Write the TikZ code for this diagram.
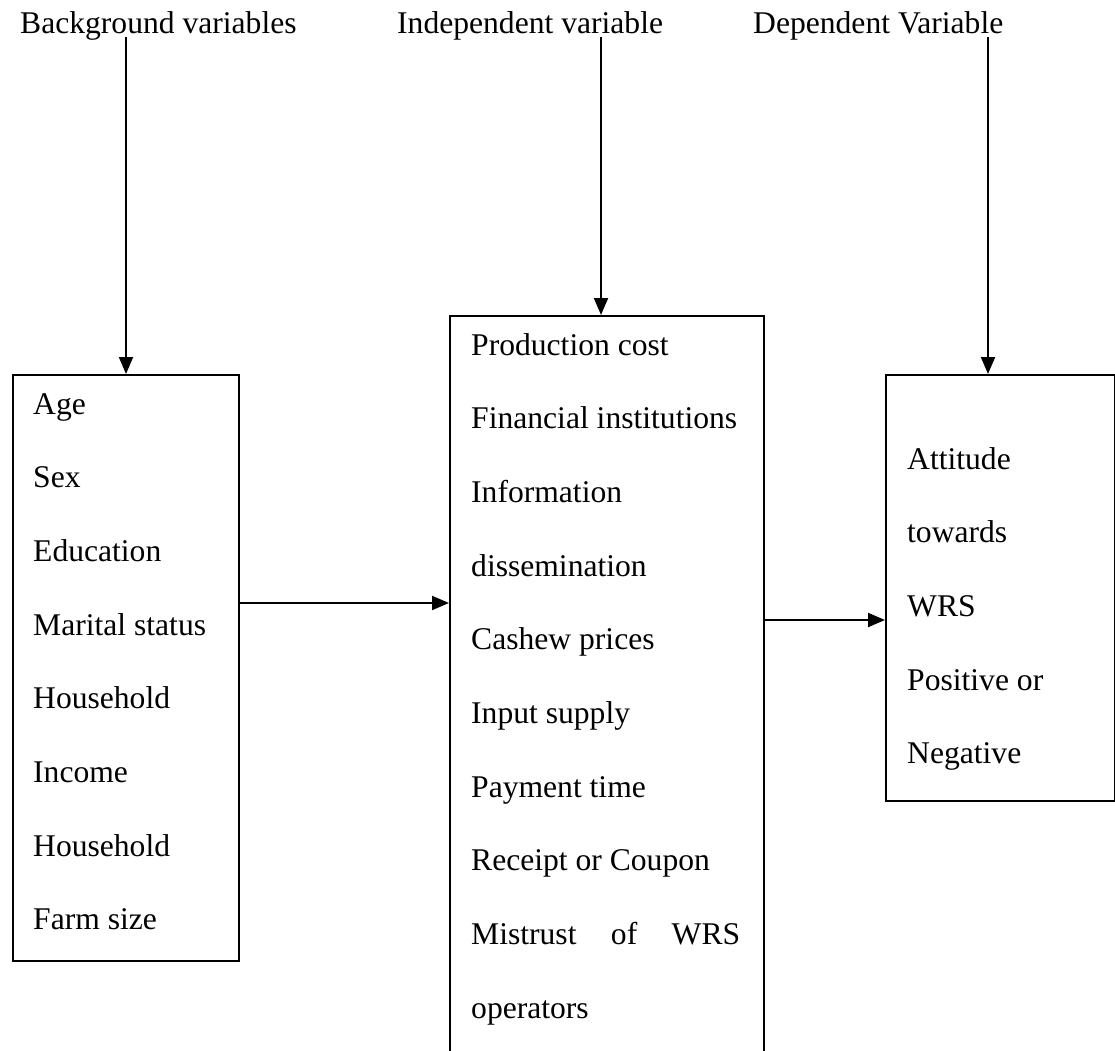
\documentclass[tikz,border=0pt]{standalone}
\usepackage{fontspec}
\setmainfont{Liberation Serif}
\usetikzlibrary{arrows.meta}
\begin{document}
\begin{tikzpicture}[x=1pt,y=-1pt,
  box/.style={draw, line width=2pt, rectangle, inner sep=0pt},
  txt/.style={anchor=base west, inner sep=0pt, font=\fontsize{31.6}{38}\selectfont},
  conn/.style={line width=2pt, -{Triangle[length=17pt,width=14pt]}}]
\useasboundingbox (0,0) rectangle (1115,1050);
\clip (0,0) rectangle (1115,1050);
% boxes
\node[box, anchor=north west, minimum width=226pt, minimum height=586pt] (lb) at (12,374) {};
\node[box, anchor=north west, minimum width=314pt, minimum height=780pt] (mb) at (449,315) {};
\node[box, anchor=north west, minimum width=229pt, minimum height=426pt] (rb) at (885,374) {};
% headings
\node[txt] (hbg) at (20,33) {Background variables};
\node[txt] (hin) at (397,33) {Independent variable};
\node[txt] (hdv) at (753,33) {Dependent Variable};
% left box items
\node[txt] (l1) at (33,414) {Age};
\node[txt] (l2) at (33,487.7) {Sex};
\node[txt] (l3) at (33,561.4) {Education};
\node[txt] (l4) at (33,635.1) {Marital status};
\node[txt] (l5) at (33,708.8) {Household};
\node[txt] (l6) at (33,782.5) {Income};
\node[txt] (l7) at (33,856.2) {Household};
\node[txt] (l8) at (33,929.9) {Farm size};
% middle box items
\node[txt] (m1) at (471,355) {Production cost};
\node[txt] (m2) at (471,428.7) {Financial institutions};
\node[txt] (m3) at (471,502.4) {Information};
\node[txt] (m4) at (471,576.1) {dissemination};
\node[txt] (m5) at (471,649.8) {Cashew prices};
\node[txt] (m6) at (471,723.5) {Input supply};
\node[txt] (m7) at (471,797.2) {Payment time};
\node[txt] (m8) at (471,870.9) {Receipt or Coupon};
\node[txt] (m9) at (471,944.6) {\makebox[269pt][s]{Mistrust of WRS}};
\node[txt] (m10) at (471,1018.3) {operators};
% right box items
\node[txt] (r1) at (907,469) {Attitude};
\node[txt] (r2) at (907,542.7) {towards};
\node[txt] (r3) at (907,616.4) {WRS};
\node[txt] (r4) at (907,690.1) {Positive or};
\node[txt] (r5) at (907,763.8) {Negative};
% connectors
\coordinate (s1) at (126,37);
\coordinate (s2) at (601,37);
\coordinate (s3) at (988,37);
\draw[conn] (s1) -- (s1 |- lb.north);
\draw[conn] (s2) -- (s2 |- mb.north);
\draw[conn] (s3) -- (s3 |- rb.north);
\coordinate (h1) at (238,603);
\coordinate (h2) at (763,620);
\draw[conn] (lb.east |- h1) -- (mb.west |- h1);
\draw[conn] (mb.east |- h2) -- (rb.west |- h2);
\end{tikzpicture}
\end{document}
